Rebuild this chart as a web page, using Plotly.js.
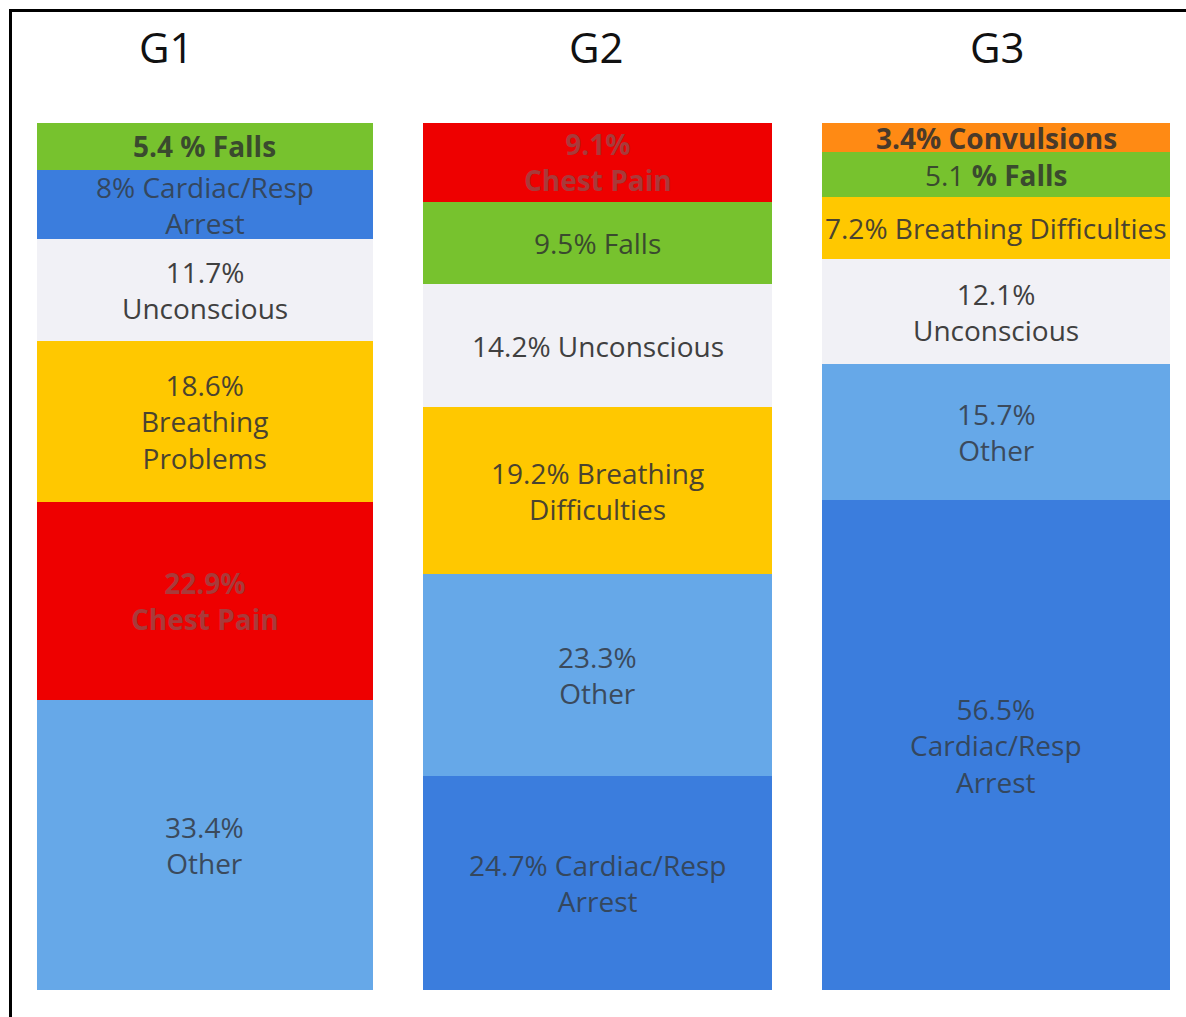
<!DOCTYPE html>
<html>
<head>
<meta charset="utf-8">
<script src="https://cdn.plot.ly/plotly-3.0.1.min.js"></script>
<style>
  html, body { margin: 0; padding: 0; background: #fff; }
  #wrap { position: relative; width: 1186px; height: 1017px; overflow: hidden; }
  #chart { position: absolute; left: 0; top: 0; width: 1186px; height: 1017px; }
  #frame { position: absolute; left: 9px; top: 9px; right: -10px; bottom: -10px;
           border-top: 3px solid #000; border-left: 3px solid #000; pointer-events: none; }
</style>
</head>
<body>
<div id="wrap"><div id="chart"></div><div id="frame"></div></div>
<script>
// Groups (columns) and their title labels
const groups = ['G1', 'G2', 'G3'];
const groupTitles = ['G1', 'G2', 'G3'];

// Each column listed bottom -> top
const g1Cats = ['Other', 'Chest Pain', 'Breathing', 'Unconscious', 'Cardiac/Resp Arrest', 'Falls'];
const g1Values = [33.4, 22.9, 18.6, 11.7, 8, 5.4];
const g1Labels = ['33.4%<br>Other', '<b>22.9%<br>Chest Pain</b>', '18.6%<br>Breathing<br>Problems',
                  '11.7%<br>Unconscious', '8% Cardiac/Resp<br>Arrest', '<b>5.4 % Falls</b>'];

const g2Cats = ['Cardiac/Resp Arrest', 'Other', 'Breathing', 'Unconscious', 'Falls', 'Chest Pain'];
const g2Values = [24.7, 23.3, 19.2, 14.2, 9.5, 9.1];
const g2Labels = ['24.7% Cardiac/Resp<br>Arrest', '23.3%<br>Other', '19.2% Breathing<br>Difficulties',
                  '14.2% Unconscious', '9.5% Falls', '<b>9.1%<br>Chest Pain</b>'];

const g3Cats = ['Cardiac/Resp Arrest', 'Other', 'Unconscious', 'Breathing', 'Falls', 'Convulsions'];
const g3Values = [56.5, 15.7, 12.1, 7.2, 5.1, 3.4];
const g3Labels = ['56.5%<br>Cardiac/Resp<br>Arrest', '15.7%<br>Other', '12.1%<br>Unconscious',
                  '7.2% Breathing Difficulties', '5.1 <b>% Falls</b>', '<b>3.4% Convulsions</b>'];

// Styles
const catColor = {
  'Other': '#66A8E8',
  'Cardiac/Resp Arrest': '#3B7DDD',
  'Chest Pain': '#EE0000',
  'Breathing': '#FFC800',
  'Unconscious': '#F1F1F6',
  'Falls': '#77C22E',
  'Convulsions': '#FF8A14'
};
const catTextColor = {
  'Other': '#3B4A5C',
  'Cardiac/Resp Arrest': '#34475E',
  'Chest Pain': '#A83A3A',
  'Breathing': '#4A4330',
  'Unconscious': '#404040',
  'Falls': '#3A4A2E',
  'Convulsions': '#4A3A2A'
};

const FONT = '"Open Sans", "Noto Sans", sans-serif';
const cats = [g1Cats, g2Cats, g3Cats];
const vals = [g1Values, g2Values, g3Values];
const labs = [g1Labels, g2Labels, g3Labels];

// bar geometry (style)
const barWidth = [0.85, 0.882, 0.88];
const barShift = [0, -0.0076, 0];
const labelShiftPx = [0, -3, 0];

const traces = [];
for (let i = 0; i < g1Values.length; i++) {
  traces.push({
    type: 'bar',
    x: groups,
    y: vals.map(v => v[i]),
    width: barWidth,
    offset: barWidth.map((w, k) => -w / 2 + barShift[k]),
    marker: { color: cats.map(c => catColor[c[i]]), line: { width: 0 } },
    hoverinfo: 'skip',
    showlegend: false
  });
}

const annotations = [];
// segment labels at the midpoint of each stacked segment (data coordinates)
groups.forEach((g, k) => {
  let base = 0;
  vals[k].forEach((v, i) => {
    annotations.push({
      x: g, xref: 'x', y: base + v / 2, yref: 'y', xshift: labelShiftPx[k],
      text: labs[k][i], showarrow: false,
      xanchor: 'center', yanchor: 'middle',
      font: { family: FONT, size: 28, color: catTextColor[cats[k][i]] }
    });
    base += v;
  });
});
// column titles
const titleShiftPx = [-38, -4, 1];
groups.forEach((g, k) => {
  annotations.push({
    x: g, xref: 'x', y: 1, yref: 'paper', yanchor: 'bottom',
    yshift: 46, xshift: titleShiftPx[k],
    text: groupTitles[k], showarrow: false,
    font: { family: FONT, size: 42, color: '#111' }
  });
});

const layout = {
  width: 1186, height: 1017,
  margin: { l: 0, r: 0, t: 123, b: 27 },
  paper_bgcolor: 'rgba(0,0,0,0)', plot_bgcolor: 'rgba(0,0,0,0)',
  barmode: 'stack',
  xaxis: { range: [-0.518, 2.480], showticklabels: false, showgrid: false, zeroline: false, showline: false, ticks: '' },
  yaxis: { range: [0, 100], showticklabels: false, showgrid: false, zeroline: false, showline: false, ticks: '' },
  annotations: annotations,
  showlegend: false
};

Plotly.newPlot('chart', traces, layout, { displayModeBar: false, staticPlot: true });
</script>
</body>
</html>
